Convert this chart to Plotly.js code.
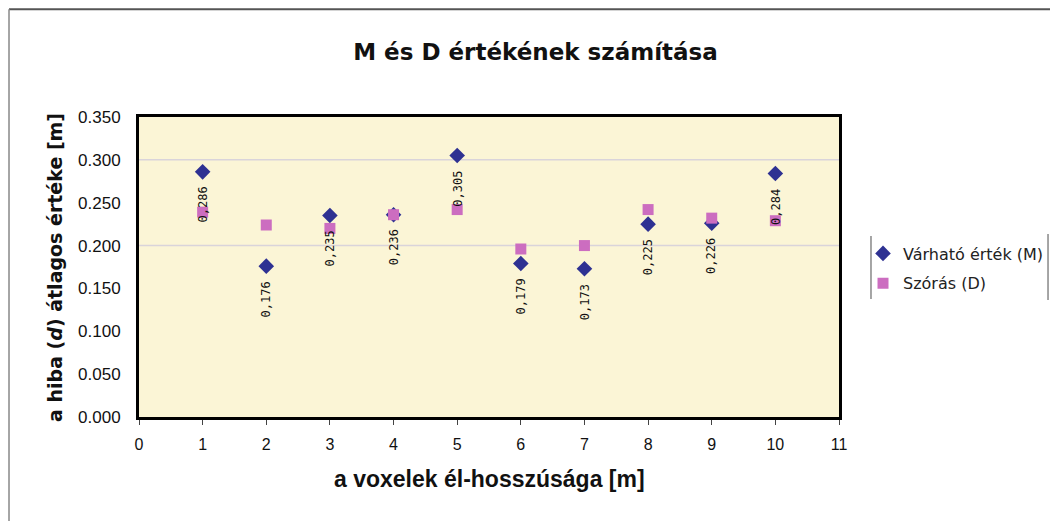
<!DOCTYPE html>
<html>
<head>
<meta charset="utf-8">
<script src="https://cdn.plot.ly/plotly-3.0.1.min.js"></script>
<style>html,body{margin:0;padding:0;background:#fff;}#chart{width:1050px;height:521px;}</style>
</head>
<body>
<div id="chart"></div>
<script>
// Data
const voxelSizes = [1, 2, 3, 4, 5, 6, 7, 8, 9, 10];
const expectedM = [0.286, 0.176, 0.235, 0.236, 0.305, 0.179, 0.173, 0.225, 0.226, 0.284];
const deviationD = [0.239, 0.224, 0.220, 0.236, 0.242, 0.196, 0.200, 0.242, 0.232, 0.229];
const seriesNames = ["Várható érték (M)", "Szórás (D)"];
const gridValues = [0.2, 0.3];

const chartTitle = "M és D értékének számítása";
const xTitle = "a voxelek él-hosszúsága [m]";
const yTitle = "a hiba (<i>d</i>) átlagos értéke [m]";

const FONT = "Liberation Sans, Arial, sans-serif";
const WIDE = "DejaVu Sans, Verdana, sans-serif";

const traces = [
  {
    x: voxelSizes, y: expectedM, name: seriesNames[0], type: "scatter", mode: "markers",
    legendgroup: "M",
    marker: {symbol: "diamond", size: 12, color: "#2E3192"}
  },
  {
    x: voxelSizes, y: deviationD, name: seriesNames[1], type: "scatter", mode: "markers",
    legendgroup: "D",
    marker: {symbol: "square", size: 11, color: "#CC6DC0"}
  }
];

const labelAnnotations = voxelSizes.map((x, i) => ({
  x: x, y: expectedM[i], xref: "x", yref: "y",
  text: expectedM[i].toFixed(3).replace(".", ","),
  showarrow: false, textangle: -90,
  xanchor: "center", yanchor: "middle",
  yshift: -33,
  font: {family: "DejaVu Sans Mono, monospace", size: 12, color: "#111"}
}));

const gridShapes = gridValues.map(v => ({
  type: "line", xref: "paper", yref: "y", x0: 0, x1: 1, y0: v, y1: v,
  line: {color: "#D9D4DA", width: 1.5}, layer: "below"
}));

const layout = {
  width: 1050, height: 521,
  margin: {l: 139, r: 211, t: 117, b: 104, autoexpand: false},
  paper_bgcolor: "#ffffff",
  plot_bgcolor: "#FBF5D6",
  font: {family: FONT, color: "#111"},
  title: {
    text: chartTitle, x: 0.51, xanchor: "center", y: 0.9, yanchor: "middle",
    yref: "container",
    font: {family: WIDE, size: 23, color: "#111", weight: "bold"}
  },
  showlegend: true,
  legend: {
    x: 1.0343, xanchor: "left", y: 0.6017, yanchor: "top",
    font: {family: WIDE, size: 16, color: "#222"},
    bgcolor: "rgba(0,0,0,0)", borderwidth: 0,
    traceorder: "grouped", tracegroupgap: 6
  },
  xaxis: {
    range: [0, 11], dtick: 1, tick0: 0,
    showgrid: false, zeroline: false,
    ticks: "outside", ticklen: 5, tickcolor: "#444",
    ticklabelstandoff: 6,
    tickfont: {family: FONT, size: 16, color: "#111"},
    showline: true, linecolor: "#000", linewidth: 3, mirror: true
  },
  yaxis: {
    range: [0, 0.35], dtick: 0.05, tick0: 0, tickformat: ".3f",
    showgrid: false, zeroline: false,
    ticks: "", ticklen: 0,
    ticklabelstandoff: 12,
    tickfont: {family: FONT, size: 17, color: "#111"},
    showline: true, linecolor: "#000", linewidth: 3, mirror: true
  },
  annotations: labelAnnotations.concat([
    {
      text: xTitle, xref: "paper", yref: "paper", x: 0.5, y: -0.207,
      xanchor: "center", yanchor: "middle", showarrow: false,
      font: {family: FONT, size: 23, color: "#111", weight: "bold"}
    },
    {
      text: yTitle, xref: "paper", yref: "paper", x: -0.12, y: 0.497,
      xanchor: "center", yanchor: "middle", showarrow: false, textangle: -90,
      font: {family: WIDE, size: 19, color: "#111", weight: "bold"}
    }
  ]),
  shapes: gridShapes.concat([
    // outer chart frame (top and left edge)
    {type: "line", xref: "paper", yref: "paper", x0: -0.1857, x1: 1.31, y0: 1.359, y1: 1.359, line: {color: "#555", width: 2}},
    {type: "line", xref: "paper", yref: "paper", x0: -0.1857, x1: -0.1857, y0: 1.359, y1: -0.35, line: {color: "#888", width: 1.5}},
    // legend box sides
    {type: "line", xref: "paper", yref: "paper", x0: 1.0457, x1: 1.0457, y0: 0.603, y1: 0.393, line: {color: "#888", width: 1.5}},
    {type: "line", xref: "paper", yref: "paper", x0: 1.2986, x1: 1.2986, y0: 0.61, y1: 0.39, line: {color: "#888", width: 1.5}}
  ])
};

Plotly.newPlot("chart", traces, layout, {displayModeBar: false, staticPlot: true});
</script>
</body>
</html>
